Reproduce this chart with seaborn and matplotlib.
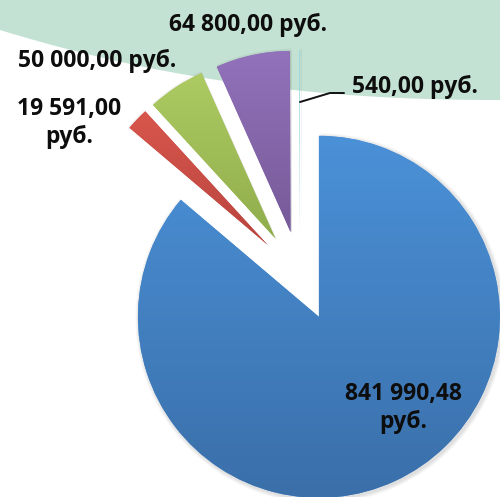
import numpy as np
import seaborn as sns
import matplotlib.pyplot as plt
from matplotlib.colors import LinearSegmentedColormap
from matplotlib.patches import Wedge

values = [841990.48, 19591.00, 50000.00, 64800.00, 540.00]
top_colors = ['#4b91d8', '#d8564c', '#adcb62', '#9272bb', '#9ad8e4']
bottom_colors = ['#3a6fa9', '#b8453f', '#90ad4c', '#775a98', '#7cc0cf']
label_breaks = [True, True, False, False, False]


def rub(v, wrap):
    s = f"{v:,.2f}".replace(",", " ").replace(".", ",")
    return s + ("\nруб." if wrap else " руб.")


sns.set_style("white")
plt.rcParams['font.family'] = ['Open Sans', 'DejaVu Sans']

fig = plt.figure(figsize=(5.0, 4.97), dpi=100)
ax = fig.add_axes([0, 0, 1, 1])

# green banner behind the chart
bx = np.linspace(0, 500, 80)
by = 497 - (30 + 70 * (1 - (1 - bx / 500) ** 2.2))
ax.fill_between(bx, by, 500, color='#c4e2d3', lw=0, zorder=0)

explode = [45] * len(values)
wedges, _ = ax.pie(values, startangle=90, counterclock=False, explode=explode,
                   center=(300, 221), radius=181, frame=True,
                   colors=top_colors, wedgeprops=dict(linewidth=0))

# soft shadow
for w in wedges:
    for k in range(1, 5):
        sh = Wedge((w.center[0] + 1.5, w.center[1] - 1.5), w.r + k,
                   w.theta1, w.theta2, fc='black', ec='none',
                   alpha=0.03, zorder=w.get_zorder() - 0.5)
        ax.add_patch(sh)

grad = np.linspace(1, 0, 256).reshape(-1, 1)
for w, c0, c1 in zip(wedges, top_colors, bottom_colors):
    x0, y0, x1, y1 = w.get_path().get_extents().extents
    cmap = LinearSegmentedColormap.from_list('g', [c1, c0])
    im = ax.imshow(grad, cmap=cmap, extent=(x0, x1, y0, y1), origin='upper',
                   aspect='auto', zorder=w.get_zorder() + 0.1)
    im.set_clip_path(w)

ax.set_xlim(0, 500)
ax.set_ylim(0, 497)
ax.set_aspect('equal')
ax.axis('off')

label_pos = [(403, 89), (69, 374), (97, 436), (248, 472), (415, 410)]
for v, wrap, (tx, ty) in zip(values, label_breaks, label_pos):
    ax.text(tx, ty, rub(v, wrap), ha='center', va='center', fontsize=16.5,
            fontweight='bold', color='#0d0d0d', linespacing=1.2, zorder=5)

ax.plot([300, 330, 344], [395, 404, 404], color='#111111', lw=1.4, zorder=5)

fig.savefig('out.png', dpi=100)
